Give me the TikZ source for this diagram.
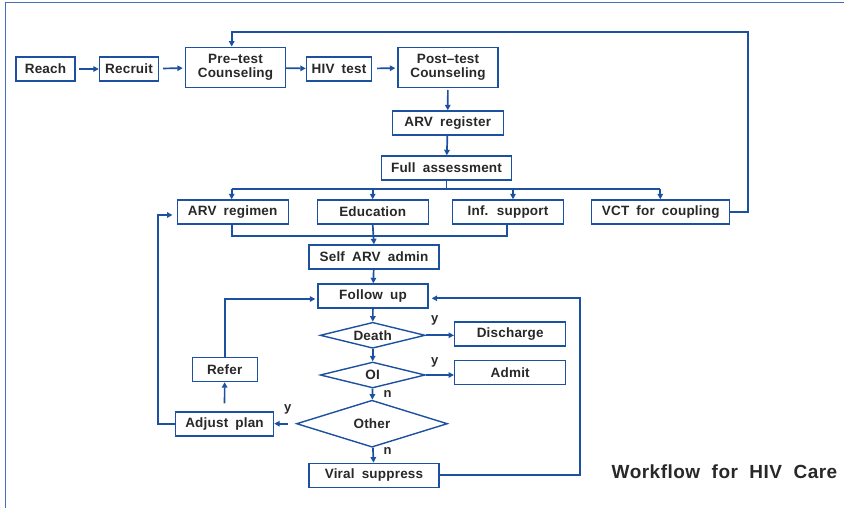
\documentclass[tikz,border=0pt]{standalone}
\usepackage{fontspec}
\setmainfont{Liberation Sans}[WordSpace=1.8, LetterSpace=1.5]
\newfontfamily\titlefont{Liberation Sans}[WordSpace=2, LetterSpace=2.5]
\usetikzlibrary{shapes.geometric,arrows.meta}
\definecolor{blu}{RGB}{28,80,160}
\definecolor{frm}{RGB}{70,110,180}
\definecolor{txt}{RGB}{40,40,40}
\tikzset{
  box/.style={draw=blu, line width=1.4pt, fill=white, inner sep=0pt, text=txt,
    font=\bfseries\fontsize{13.5}{14.5}\selectfont, align=center},
  dia/.style={diamond, draw=blu, line width=1.4pt, fill=white, inner sep=0pt, text=txt,
    font=\bfseries\fontsize{13.5}{14.5}\selectfont, shape aspect=4},
  lbl/.style={inner sep=0pt, text=txt, font=\bfseries\fontsize{13}{14}\selectfont},
  con/.style={draw=blu, line width=1.7pt},
  arr/.style={con, -{Triangle[length=5.5pt,width=5.5pt]}},
}
\begin{document}
\begin{tikzpicture}[x=1pt,y=-1pt]
\useasboundingbox (0,0) rectangle (844,508);
\draw[frm, line width=0.9pt] (5,508) -- (5,2.3) -- (844,2.3);

\node[box, minimum width=59pt, minimum height=24pt] (reach) at (45.5,69) {Reach};
\node[box, minimum width=59pt, minimum height=24pt] (recruit) at (129,69) {Recruit};
\node[box, minimum width=100pt, minimum height=40pt] (pre) at (235.5,67.3) {Pre–test\\Counseling};
\node[box, minimum width=65pt, minimum height=24pt] (hiv) at (339,69) {HIV test};
\node[box, minimum width=100pt, minimum height=40pt] (post) at (448,67.3) {Post–test\\Counseling};
\node[box, minimum width=111pt, minimum height=24pt] (reg) at (447.7,123) {ARV register};
\node[box, minimum width=130pt, minimum height=24pt] (full) at (446.5,168) {Full assessment};
\node[box, minimum width=111pt, minimum height=24pt] (arvr) at (232.7,212) {ARV regimen};
\node[box, minimum width=111pt, minimum height=24pt] (edu) at (372.7,212) {Education};
\node[box, minimum width=111pt, minimum height=24pt] (inf) at (508,212) {Inf. support};
\node[box, minimum width=138pt, minimum height=24pt] (vct) at (660.7,212) {VCT for coupling};
\node[box, minimum width=130pt, minimum height=24pt] (self) at (374,257) {Self ARV admin};
\node[box, minimum width=110pt, minimum height=24pt] (fup) at (373,296) {Follow up};
\node[dia, minimum width=105pt, minimum height=26pt] (death) at (372.7,335.3) {Death};
\node[dia, minimum width=105pt, minimum height=26pt] (oi) at (372.7,375) {OI};
\node[dia, shape aspect=3.2, minimum width=151pt, minimum height=47pt] (other) at (372,423.7) {Other};
\node[box, minimum width=130pt, minimum height=24pt] (viral) at (374,475.3) {Viral suppress};
\node[box, minimum width=111pt, minimum height=24pt] (dis) at (510.2,334) {Discharge};
\node[box, minimum width=111pt, minimum height=24pt] (admit) at (510.2,372.2) {Admit};
\node[box, minimum width=65pt, minimum height=24pt] (refer) at (224.7,369.5) {Refer};
\node[box, minimum width=98pt, minimum height=24pt] (adjust) at (224.5,424) {Adjust plan};
\node[inner sep=0pt, text=txt, font=\titlefont\bfseries\fontsize{19}{20}\selectfont] (title) at (724.5,471.3) {Workflow for HIV Care};

% top row
\draw[arr, shorten <=3pt] (reach) -- (recruit);
\draw[arr, shorten <=4pt, shorten >=2pt] (recruit) -- (pre);
\draw[arr] (pre) -- (hiv);
\draw[arr, shorten <=5pt, shorten >=2pt] (hiv) -- (post);
\draw[arr, shorten <=2pt] (post) -- (reg);
\draw[arr] (reg) -- (full);

% distribution bus
\coordinate (bl) at (231.7,189);
\coordinate (br) at (660.3,189);
\coordinate (bi) at (513,189);
\draw[con] (full.south) -- (full.south |- bl);
\draw[con] (bl) -- (br);
\draw[arr] (bl) -- (bl |- arvr.north);
\draw[arr] (edu.north |- bl) -- (edu.north);
\draw[arr] (bi) -- (bi |- inf.north);
\draw[arr] (br) -- (br |- vct.north);

% feedback to pre-test
\coordinate (tr) at (748,32);
\draw[arr] (vct.east) -| (tr) -| ([xshift=-3.8pt]pre.north);

% merge
\coordinate (ml) at (231.7,236);
\coordinate (mr) at (507.3,236);
\draw[con] (ml |- arvr.south) -- (ml) -- (mr) -- (mr |- inf.south);
\draw[arr] (edu.south) -- (self.north);

% care loop
\draw[arr] (self) -- (fup);
\draw[arr] (fup) -- (death);
\draw[arr] (death) -- (oi);
\draw[arr] (oi) -- (other);
\draw[arr] (other) -- (viral);
\draw[arr] (death.east) -- (death.east -| dis.west);
\draw[arr] (oi.east) -- (oi.east -| admit.west);
\draw[arr, shorten <=8pt] (other.west) -- (other.west -| adjust.east);
\draw[arr, shorten <=8pt] (adjust) -- (refer);
\draw[arr, shorten >=2pt] (refer.north) |- ([yshift=-3pt]fup.west);
\coordinate (al) at (157.7,215);
\draw[arr, shorten >=4pt] (adjust.west) -| (al) -- (al -| arvr.west);
\coordinate (vr) at (580,298.3);
\draw[arr, shorten >=3pt] (viral.east) -| (vr) -- (vr -| fup.east);

% labels
\node[lbl] (y1) at (434.7,320.7) {y};
\node[lbl] (y2) at (434.7,362) {y};
\node[lbl] (y3) at (287.7,409) {y};
\node[lbl] (n1) at (387.7,394) {n};
\node[lbl] (n2) at (387.7,451.3) {n};
\end{tikzpicture}
\end{document}
